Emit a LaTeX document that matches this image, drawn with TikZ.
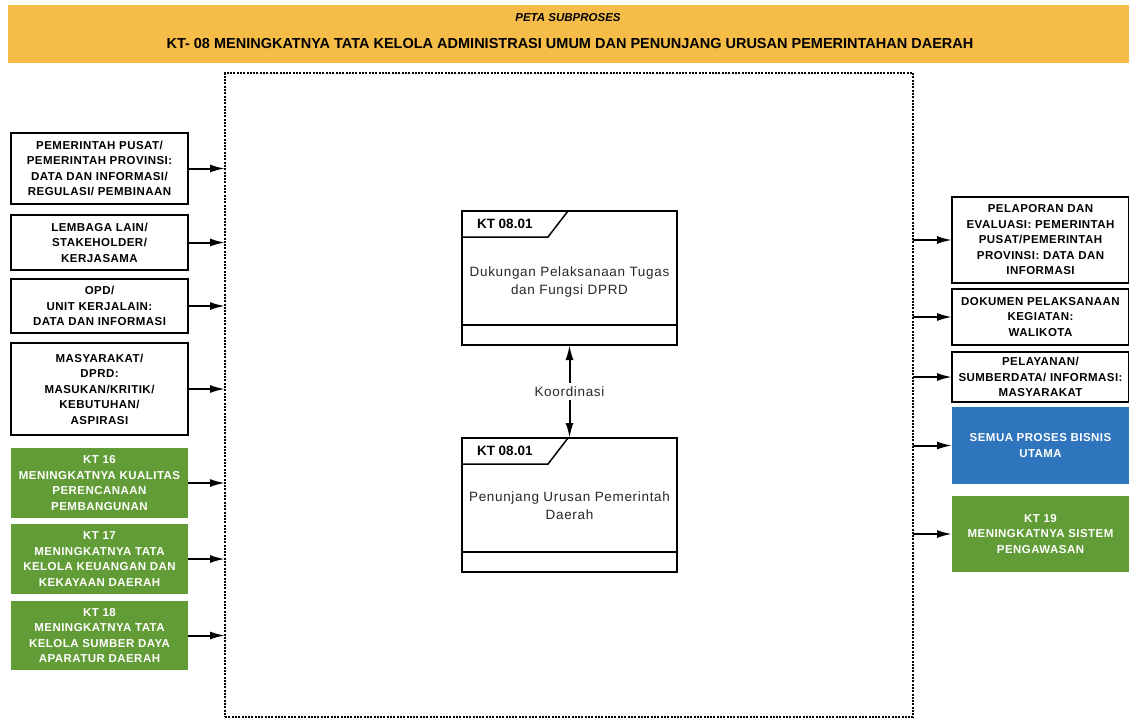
\documentclass[tikz,border=0pt]{standalone}
\usepackage{fontspec}
\setmainfont{Liberation Sans}
\newfontfamily\boxfont[LetterSpace=4]{Liberation Sans}
\newfontfamily\procfont[LetterSpace=5]{Liberation Sans}
\usepackage{tikz}
\usetikzlibrary{arrows.meta, positioning, calc}
\definecolor{bannerorange}{RGB}{245,188,72}
\definecolor{ktgreen}{RGB}{98,156,54}
\definecolor{bisnisblue}{RGB}{46,117,190}

\begin{document}
\begin{tikzpicture}[
    x=1pt, y=-1pt,
    every node/.style={inner sep=0pt, outer sep=0pt},
    banner/.style={fill=bannerorange, minimum width=1121pt, minimum height=58pt},
    sidebox/.style={draw, line width=1.1pt, fill=white, minimum width=177pt, align=center,
        font={\boxfont\bfseries\fontsize{11.5}{15.5}\selectfont}},
    ktbox/.style={sidebox, draw=none, fill=ktgreen, text=white},
    bisnisbox/.style={sidebox, draw=none, fill=bisnisblue, text=white},
    procbox/.style={draw, line width=1.5pt, minimum width=215pt, minimum height=134pt},
    prochead/.style={font={\bfseries\fontsize{13.5}{15}\selectfont}, anchor=west},
    proctext/.style={align=center, text=black!85, font={\procfont\fontsize{13.5}{18}\selectfont}},
    frame/.style={draw, line width=1.1pt, dash pattern=on 2pt off 1.3pt, minimum width=688pt, minimum height=644pt},
    flow/.style={line width=2pt, -{Latex[length=15pt, width=8pt]}}
]
\useasboundingbox (0,0) rectangle (1129,721);

\node[banner] (title) at (568.5,34) {};
\node[font={\bfseries\itshape\fontsize{11.5}{13}\selectfont}] (titleA) at (568,18) {PETA SUBPROSES};
\node[font={\bfseries\fontsize{14.5}{16}\selectfont}] (titleB) at (570,44)
    {KT- 08 MENINGKATNYA TATA KELOLA ADMINISTRASI UMUM DAN PENUNJANG URUSAN PEMERINTAHAN DAERAH};

\node[frame] (frame) at (569,395) {};

\node[sidebox, minimum height=71pt] (L1) at (99.5,168.5)
    {PEMERINTAH PUSAT/\\PEMERINTAH PROVINSI:\\DATA DAN INFORMASI/\\REGULASI/ PEMBINAAN};
\node[sidebox, minimum height=55pt] (L2) at (99.5,242.5)
    {LEMBAGA LAIN/\\STAKEHOLDER/\\KERJASAMA};
\node[sidebox, minimum height=54pt] (L3) at (99.5,306)
    {OPD/\\UNIT KERJALAIN:\\DATA DAN INFORMASI};
\node[sidebox, minimum height=92pt] (L4) at (99.5,389)
    {MASYARAKAT/\\DPRD:\\MASUKAN/KRITIK/\\KEBUTUHAN/\\ASPIRASI};
\node[ktbox, minimum height=70pt] (L5) at (99.5,483)
    {KT 16\\MENINGKATNYA KUALITAS\\PERENCANAAN\\PEMBANGUNAN};
\node[ktbox, minimum height=70pt] (L6) at (99.5,559)
    {KT 17\\MENINGKATNYA TATA\\KELOLA KEUANGAN DAN\\KEKAYAAN DAERAH};
\node[ktbox, minimum height=69pt] (L7) at (99.5,635.5)
    {KT 18\\MENINGKATNYA TATA\\KELOLA SUMBER DAYA\\APARATUR DAERAH};

\node[sidebox, minimum height=86pt] (R1) at (1040.5,240)
    {PELAPORAN DAN\\EVALUASI: PEMERINTAH\\PUSAT/PEMERINTAH\\PROVINSI: DATA DAN\\INFORMASI};
\node[sidebox, minimum height=56pt] (R2) at (1040.5,317)
    {DOKUMEN PELAKSANAAN\\KEGIATAN:\\WALIKOTA};
\node[sidebox, minimum height=50pt] (R3) at (1040.5,377)
    {PELAYANAN/\\SUMBERDATA/ INFORMASI:\\MASYARAKAT};
\node[bisnisbox, minimum height=77pt] (R4) at (1040.5,445.5)
    {SEMUA PROSES BISNIS\\UTAMA};
\node[ktbox, minimum height=76pt] (R5) at (1040.5,534)
    {KT 19\\MENINGKATNYA SISTEM\\PENGAWASAN};

\node[procbox] (pA) at (569.5,278) {};
\node[procbox] (pB) at (569.5,505) {};
\foreach \p in {pA,pB} {
    \draw[line width=1.5pt] ($(\p.north west)+(0,26)$) -- ($(\p.north west)+(86,26)$) -- ($(\p.north west)+(106,0)$);
    \draw[line width=1.2pt] ($(\p.south west)+(0,-20)$) -- ($(\p.south east)+(0,-20)$);
}
\node[prochead] (hA) at ($(pA.north west)+(15,13)$) {KT 08.01};
\node[prochead] (hB) at ($(pB.north west)+(15,13)$) {KT 08.01};
\node[proctext] (tA) at ($(pA.center)+(0,4)$) {Dukungan Pelaksanaan Tugas\\dan Fungsi DPRD};
\node[proctext] (tB) at ($(pB.center)+(0,1)$) {Penunjang Urusan Pemerintah\\Daerah};

\draw[line width=2pt, {Latex[length=15pt, width=8pt]}-{Latex[length=15pt, width=8pt]}] (pA.south) --
    node[fill=white, inner ysep=4pt, text=black!85, font={\procfont\fontsize{13.5}{15}\selectfont}] (koord) {Koordinasi} (pB.north);

\foreach \n in {L1,L2,L3,L4,L5,L6,L7}
    \draw[flow] (\n.east) -- (\n.east -| frame.west);
\foreach \n in {R1,R2,R3,R4,R5}
    \draw[flow] (\n.west -| frame.east) -- (\n.west);
\end{tikzpicture}
\end{document}
